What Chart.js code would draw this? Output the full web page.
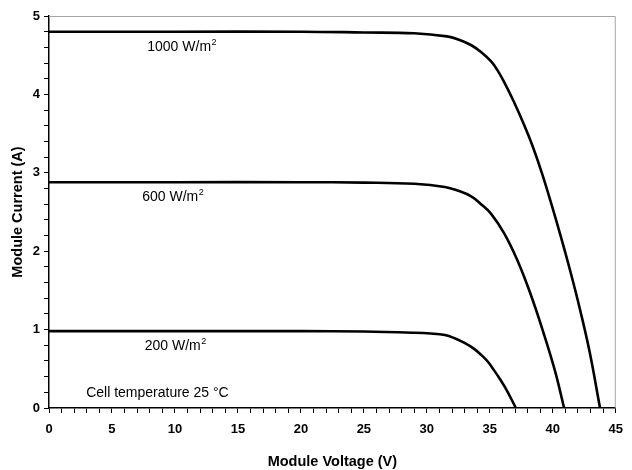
<!DOCTYPE html>
<html>
<head>
<meta charset="utf-8">
<script src="https://cdn.jsdelivr.net/npm/chart.js"></script>
<style>
  html, body { margin: 0; padding: 0; background: #fff; }
  #wrap { width: 632px; height: 470px; }
</style>
</head>
<body>
<div id="wrap"><canvas id="ivChart" width="632" height="470"></canvas></div>
<script>
// I-V curves (voltage in V, current in A)
const v1000 = [0, 10, 20, 25, 29, 31.6, 32.5, 33.5, 34.3, 35.1, 35.6, 36.1, 36.9, 37.7, 38.35, 39.13, 39.91, 40.7, 41.48, 42.14, 42.92, 43.75];
const i1000 = [4.80, 4.80, 4.80, 4.79, 4.78, 4.74, 4.70, 4.63, 4.54, 4.42, 4.31, 4.17, 3.91, 3.62, 3.36, 3.00, 2.59, 2.15, 1.69, 1.27, 0.72, 0];

const v600 = [0, 10, 20, 25, 29, 31.43, 32.5, 33.52, 34.3, 35.09, 36.13, 37.17, 38.22, 39.26, 40.18, 40.9];
const i600 = [2.88, 2.88, 2.88, 2.875, 2.86, 2.82, 2.77, 2.70, 2.60, 2.48, 2.23, 1.89, 1.46, 0.96, 0.47, 0];

const v200 = [0, 10, 20, 25, 29, 30.3, 31.43, 32.2, 32.99, 33.7, 34.3, 34.85, 35.34, 35.8, 36.26, 37.07];
const i200 = [0.98, 0.98, 0.98, 0.975, 0.96, 0.95, 0.93, 0.89, 0.83, 0.76, 0.68, 0.59, 0.48, 0.37, 0.25, 0];

const curveLabels = ['1000', '600', '200'];
const labelAt = [[7.8, 4.80], [7.4, 2.88], [7.6, 0.98]]; // text start (V, A) of each line's label
const noteText = 'Cell temperature 25 °C';
const notePos = [2.95, 0.14];

const xTicks = [0, 5, 10, 15, 20, 25, 30, 35, 40, 45];
const yTicks = [0, 1, 2, 3, 4, 5];

function pts(xs, ys) {
    return xs.map((x, k) => ({ x: x, y: ys[k] }));
}

const lineStyle = {
    showLine: true,
    borderColor: '#000',
    borderWidth: 2.6,
    pointRadius: 0,
    fill: false,
    tension: 0.4
};

const fontFam = '"Liberation Sans", Arial, sans-serif';

// gray frame on top/right + text labels
const extras = {
    id: 'extras',
    beforeDatasetsDraw(chart) {
        const a = chart.chartArea;
        const c = chart.ctx;
        c.save();
        c.strokeStyle = '#a6a6a6';
        c.lineWidth = 1;
        c.beginPath();
        c.moveTo(a.left, a.top + 0.5);
        c.lineTo(a.right - 0.5, a.top + 0.5);
        c.lineTo(a.right - 0.5, a.bottom);
        c.stroke();
        c.restore();
    },
    afterDatasetsDraw(chart) {
        const c = chart.ctx;
        const xs = chart.scales.x, ys = chart.scales.y;
        c.save();
        c.fillStyle = '#000';
        c.textBaseline = 'alphabetic';
        curveLabels.forEach((lab, k) => {
            const px = xs.getPixelForValue(labelAt[k][0]);
            const py = ys.getPixelForValue(labelAt[k][1]) + 19;
            c.font = '14px ' + fontFam;
            const main = lab + ' W/m';
            c.fillText(main, px, py);
            const w = c.measureText(main).width;
            c.font = '9px ' + fontFam;
            c.fillText('2', px + w + 0.5, py - 6);
        });
        c.font = '14px ' + fontFam;
        c.fillText(noteText, xs.getPixelForValue(notePos[0]), ys.getPixelForValue(notePos[1]));
        c.restore();
    }
};

const isWhole = v => Math.abs(v - Math.round(v)) < 1e-6;
const tickFont = { family: fontFam, size: 13, weight: 'bold' };
const titleFont = { family: fontFam, size: 14.5, weight: 'bold' };

new Chart(document.getElementById('ivChart'), {
    type: 'scatter',
    data: {
        datasets: [
            Object.assign({ label: '1000 W/m2', data: pts(v1000, i1000) }, lineStyle),
            Object.assign({ label: '600 W/m2', data: pts(v600, i600) }, lineStyle),
            Object.assign({ label: '200 W/m2', data: pts(v200, i200) }, lineStyle)
        ]
    },
    options: {
        responsive: false,
        animation: false,
        layout: { padding: { top: 16, right: 9, left: 0, bottom: 0 } },
        plugins: { legend: { display: false }, tooltip: { enabled: false } },
        scales: {
            x: {
                type: 'linear',
                min: 0, max: 45,
                ticks: {
                    stepSize: 1,
                    autoSkip: false,
                    maxRotation: 0,
                    color: '#000',
                    font: tickFont,
                    padding: 9,
                    callback: v => (isWhole(v / 5) && xTicks.includes(Math.round(v))) ? String(Math.round(v)) : ''
                },
                grid: { drawOnChartArea: false, tickLength: 5, color: '#000', tickWidth: 1 },
                border: { color: '#000', width: 1.5 },
                title: { display: true, text: 'Module Voltage (V)', color: '#000', font: titleFont, padding: { top: 0, bottom: -1 } },
                afterFit: s => { s.height = 62; }
            },
            y: {
                type: 'linear',
                min: 0, max: 5,
                ticks: {
                    stepSize: 0.2,
                    autoSkip: false,
                    color: '#000',
                    font: tickFont,
                    padding: 4,
                    callback: v => (isWhole(v) && yTicks.includes(Math.round(v))) ? String(Math.round(v)) : ''
                },
                grid: { drawOnChartArea: false, tickLength: 5, color: '#000', tickWidth: 1 },
                border: { color: '#000', width: 1.5 },
                title: { display: true, text: 'Module Current (A)', color: '#000', font: titleFont, padding: { top: 9, bottom: 0 } },
                afterFit: s => { s.width = 49; }
            }
        }
    },
    plugins: [extras]
});
</script>
</body>
</html>
